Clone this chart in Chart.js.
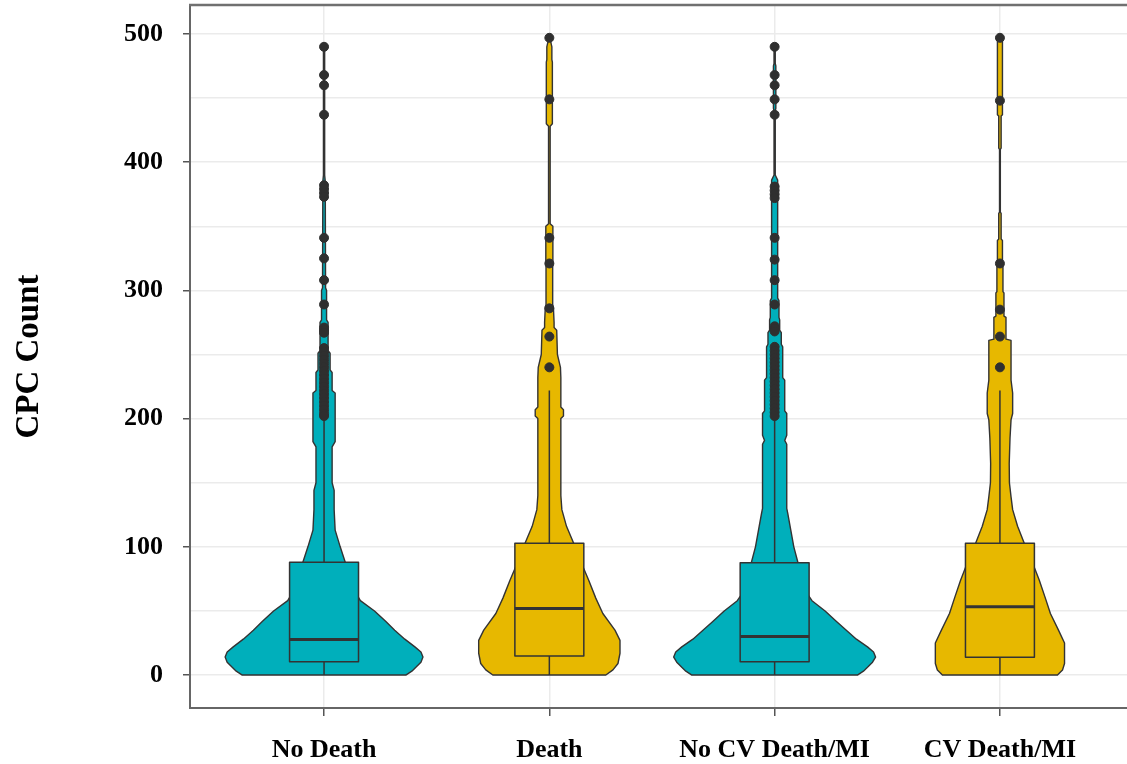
<!DOCTYPE html>
<html>
<head>
<meta charset="utf-8">
<title>CPC Count</title>
<script src="https://cdn.jsdelivr.net/npm/chart.js@4.4.1/dist/chart.umd.min.js"></script>
<style>
  html, body { margin: 0; padding: 0; background: #fff; overflow: hidden; }
</style>
</head>
<body>
<canvas id="chart" width="1127" height="764"></canvas>
<script>
const categories = ["No Death", "Death", "No CV Death/MI", "CV Death/MI"];
const groupColors = ["#00AFBB", "#E7B800", "#00AFBB", "#E7B800"];
const yTicks = [0, 50, 100, 150, 200, 250, 300, 350, 400, 450, 500];

// box statistics per group
const lowerWhisker = [0, 0, 0, 0];
const q1 = [10.4, 14.8, 10.4, 13.8];
const medians = [27.8, 52, 30, 53.3];
const q3 = [88, 102.7, 87.6, 102.7];
const upperWhisker = [201, 222, 201, 222];

// violin outlines: CPC level and relative density at that level
const levelsNoDeath = [0, 1.5, 3, 6, 10, 14, 18, 22, 28, 35, 42, 50, 58, 66, 75, 88, 100, 113, 129, 144, 150, 178, 182, 220, 222, 236, 238, 251, 253, 275, 277, 300, 302, 385, 390, 490];
const densityNoDeath = [0.81, 0.84, 0.87, 0.91, 0.96, 0.98, 0.96, 0.90, 0.80, 0.70, 0.61, 0.50, 0.36, 0.30, 0.25, 0.21, 0.16, 0.11, 0.10, 0.10, 0.08, 0.08, 0.11, 0.11, 0.08, 0.08, 0.06, 0.06, 0.04, 0.04, 0.025, 0.025, 0.015, 0.012, 0.006, 0.006];

const levelsDeath = [0, 4, 9, 17, 27, 35, 48, 60, 74, 85, 95, 103, 116, 129, 140, 200, 202, 207, 209, 232, 240, 250, 269, 271, 275, 287, 289, 318, 320, 350, 352, 428, 430, 478, 480, 490, 497];
const densityDeath = [0.56, 0.63, 0.68, 0.70, 0.70, 0.65, 0.53, 0.46, 0.39, 0.33, 0.28, 0.24, 0.17, 0.124, 0.114, 0.114, 0.14, 0.14, 0.114, 0.114, 0.11, 0.08, 0.073, 0.047, 0.047, 0.04, 0.033, 0.033, 0.035, 0.035, 0.008, 0.008, 0.03, 0.03, 0.025, 0.025, 0.005];

const levelsNoCvDeath = [0, 1.5, 3, 6, 10, 14, 18, 22, 28, 35, 42, 50, 58, 66, 75, 88, 100, 113, 126, 130, 180, 183, 187, 204, 206, 230, 232, 256, 258, 267, 269, 277, 279, 292, 294, 386, 390, 440, 442, 475, 477, 490];
const densityNoCvDeath = [0.82, 0.85, 0.88, 0.92, 0.97, 1.0, 0.98, 0.92, 0.81, 0.71, 0.61, 0.50, 0.37, 0.30, 0.26, 0.23, 0.19, 0.16, 0.13, 0.12, 0.12, 0.10, 0.12, 0.12, 0.10, 0.10, 0.08, 0.08, 0.066, 0.066, 0.05, 0.05, 0.043, 0.043, 0.03, 0.03, 0.006, 0.006, 0.012, 0.012, 0.006, 0.006];

const levelsCvDeath = [0, 4, 9, 25, 35, 48, 60, 74, 84, 95, 103, 116, 129, 139, 150, 165, 185, 199, 204, 220, 230, 261, 262, 279, 280, 298, 299, 321, 322, 339, 340, 360, 361, 410, 411, 436, 437, 497];
const densityCvDeath = [0.57, 0.62, 0.64, 0.64, 0.58, 0.50, 0.45, 0.39, 0.34, 0.28, 0.24, 0.175, 0.126, 0.11, 0.094, 0.092, 0.10, 0.11, 0.126, 0.126, 0.11, 0.11, 0.06, 0.06, 0.04, 0.04, 0.03, 0.03, 0.025, 0.025, 0.012, 0.012, 0.004, 0.004, 0.012, 0.012, 0.025, 0.025];

// outliers beyond the whiskers
const outliersNoDeath = [490, 468, 460, 437, 382, 379, 376, 373, 341, 325, 308, 289, 271, 269, 267, 255, 252, 249, 246, 243, 240, 237, 234, 231, 228, 225, 222, 219, 216, 213, 210, 207, 204, 202];
const outliersDeath = [497, 449, 341, 321, 286, 264, 240];
const outliersNoCvDeath = [490, 468, 460, 449, 437, 381, 378, 375, 372, 341, 324, 308, 289, 272, 270, 268, 256, 253, 250, 247, 244, 241, 238, 235, 232, 229, 226, 223, 220, 217, 214, 211, 208, 205, 202];
const outliersCvDeath = [497, 448, 321, 285, 264, 240];

const violins = [
  { levels: levelsNoDeath, density: densityNoDeath },
  { levels: levelsDeath, density: densityDeath },
  { levels: levelsNoCvDeath, density: densityNoCvDeath },
  { levels: levelsCvDeath, density: densityCvDeath },
];
const outlierGroups = [outliersNoDeath, outliersDeath, outliersNoCvDeath, outliersCvDeath];

// widths in category units
const VIOLIN_HALF = 0.448;
const BOX_HALF = 0.153;

const outlierPoints = [];
outlierGroups.forEach((arr, i) => {
  arr.forEach((v) => outlierPoints.push({ x: i + 1, y: v }));
});

const OUTLINE = "#333333";

const violinPlugin = {
  id: "violins",
  beforeDatasetsDraw(chart) {
    const { ctx, chartArea } = chart;
    const x = chart.scales.x;
    const y = chart.scales.y;
    ctx.save();
    ctx.beginPath();
    ctx.rect(chartArea.left, chartArea.top, chartArea.right - chartArea.left, chartArea.bottom - chartArea.top);
    ctx.clip();
    ctx.strokeStyle = OUTLINE;
    ctx.lineJoin = "round";

    violins.forEach((v, i) => {
      const pos = i + 1;

      // violin body: right side going up, left side coming down
      ctx.beginPath();
      for (let k = 0; k < v.levels.length; k++) {
        const px = x.getPixelForValue(pos + v.density[k] * VIOLIN_HALF);
        const py = y.getPixelForValue(v.levels[k]);
        if (k === 0) ctx.moveTo(px, py);
        else ctx.lineTo(px, py);
      }
      for (let k = v.levels.length - 1; k >= 0; k--) {
        ctx.lineTo(x.getPixelForValue(pos - v.density[k] * VIOLIN_HALF), y.getPixelForValue(v.levels[k]));
      }
      ctx.closePath();
      ctx.fillStyle = groupColors[i];
      ctx.fill();
      ctx.lineWidth = 1.4;
      ctx.stroke();

      // whiskers
      const cx = x.getPixelForValue(pos);
      ctx.beginPath();
      ctx.moveTo(cx, y.getPixelForValue(lowerWhisker[i]));
      ctx.lineTo(cx, y.getPixelForValue(q1[i]));
      ctx.moveTo(cx, y.getPixelForValue(q3[i]));
      ctx.lineTo(cx, y.getPixelForValue(upperWhisker[i]));
      ctx.lineWidth = 1.5;
      ctx.stroke();

      // box
      const bl = x.getPixelForValue(pos - BOX_HALF);
      const br = x.getPixelForValue(pos + BOX_HALF);
      const bt = y.getPixelForValue(q3[i]);
      const bb = y.getPixelForValue(q1[i]);
      ctx.beginPath();
      ctx.rect(bl, bt, br - bl, bb - bt);
      ctx.fill();
      ctx.lineWidth = 1.5;
      ctx.stroke();

      // median
      const my = y.getPixelForValue(medians[i]);
      ctx.beginPath();
      ctx.moveTo(bl, my);
      ctx.lineTo(br, my);
      ctx.lineWidth = 3;
      ctx.stroke();
    });
    ctx.restore();
  },
  afterDraw(chart) {
    // panel border along the top
    const { ctx, chartArea } = chart;
    ctx.save();
    ctx.strokeStyle = "#707070";
    ctx.lineWidth = 2.5;
    ctx.beginPath();
    ctx.moveTo(chartArea.left - 1, chartArea.top);
    ctx.lineTo(chartArea.right, chartArea.top);
    ctx.stroke();
    ctx.restore();
  },
};

const serifBold = (size) => ({ family: "'Liberation Serif', 'Times New Roman', serif", size: size, weight: "bold" });

new Chart(document.getElementById("chart"), {
  type: "scatter",
  data: {
    datasets: [
      {
        label: "Outliers",
        data: outlierPoints,
        pointRadius: 4.5,
        pointBackgroundColor: "#2f2f2f",
        pointBorderColor: "#2f2f2f",
        pointBorderWidth: 1,
      },
    ],
  },
  options: {
    responsive: false,
    animation: false,
    devicePixelRatio: 1,
    layout: { autoPadding: false, padding: { top: 5, left: 0, right: 0, bottom: 0 } },
    plugins: {
      legend: { display: false },
      tooltip: { enabled: false },
    },
    scales: {
      x: {
        type: "linear",
        min: 0.405,
        max: 4.564,
        afterBuildTicks: (s) => {
          s.ticks = categories.map((c, i) => ({ value: i + 1 }));
        },
        afterFit: (s) => {
          s.height = 56;
          s.paddingLeft = 0;
          s.paddingRight = 0;
        },
        ticks: {
          callback: (value) => categories[value - 1],
          autoSkip: false,
          maxRotation: 0,
          padding: 19,
          color: "#000",
          font: serifBold(26),
        },
        grid: {
          color: "#EBEBEB",
          lineWidth: 1.5,
          tickLength: 8,
          tickColor: "#555",
          tickWidth: 1.5,
        },
        border: { color: "#666", width: 2 },
      },
      y: {
        type: "linear",
        min: -25.7,
        max: 522.6,
        afterBuildTicks: (s) => {
          s.ticks = yTicks.map((v) => ({ value: v }));
        },
        afterFit: (s) => {
          s.width = 190;
          s.paddingTop = 0;
          s.paddingBottom = 0;
        },
        ticks: {
          callback: (value) => (value % 100 === 0 ? String(value) : ""),
          padding: 20,
          color: "#000",
          font: serifBold(26),
        },
        grid: {
          color: "#EBEBEB",
          lineWidth: 1.5,
          tickLength: 7,
          tickColor: (c) => (c.tick && c.tick.value % 100 === 0 ? "#555" : "rgba(0,0,0,0)"),
          tickWidth: 1.5,
        },
        border: { color: "#666", width: 2 },
        title: {
          display: true,
          text: "CPC Count",
          color: "#000",
          font: serifBold(33),
          padding: { top: 10, bottom: 0 },
        },
      },
    },
  },
  plugins: [violinPlugin],
});
</script>
</body>
</html>
